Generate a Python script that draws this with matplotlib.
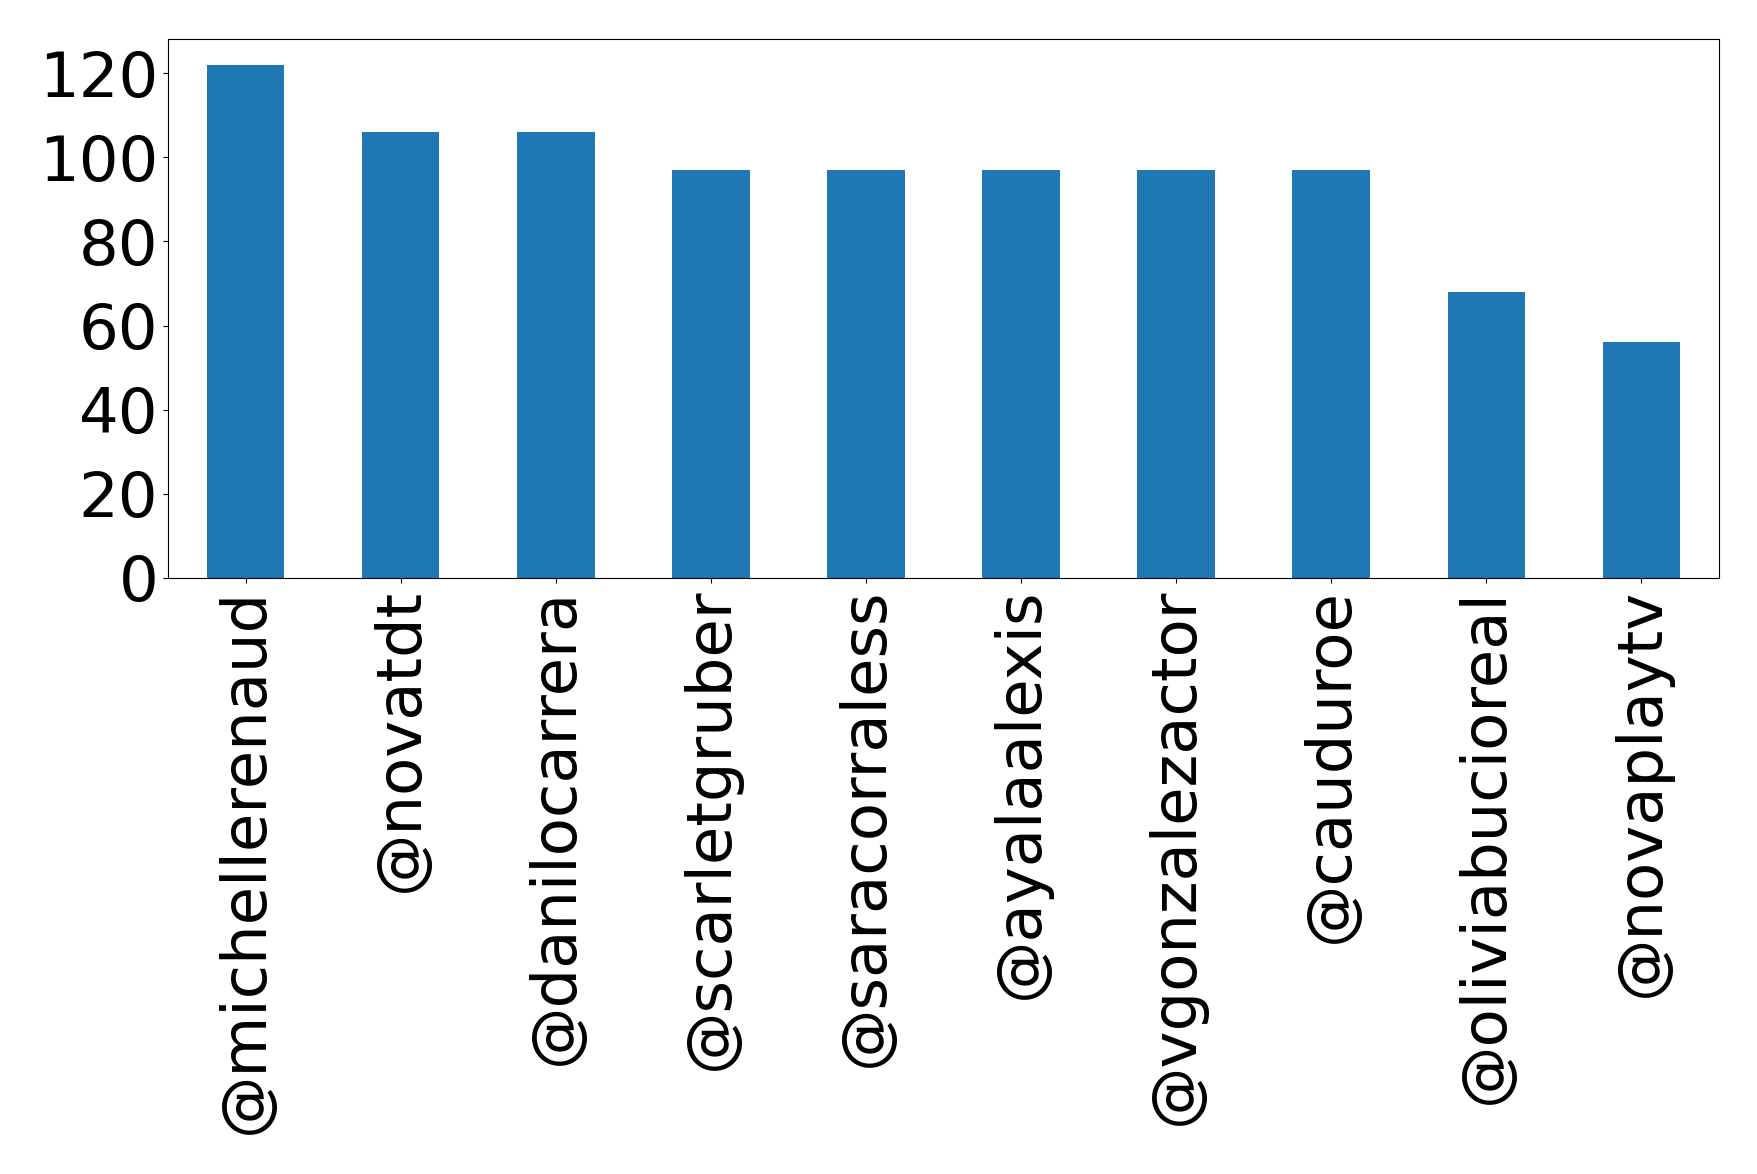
import matplotlib
matplotlib.use("Agg")
import matplotlib.pyplot as plt
import numpy as np

users = ["@michellerenaud", "@novatdt", "@danilocarrera", "@scarletgruber",
         "@saracorraless", "@ayalaalexis", "@vgonzalezactor", "@cauduroe",
         "@oliviabucioreal", "@novaplaytv"]
counts = [122, 106, 106, 97, 97, 97, 97, 97, 68, 56]

fig = plt.figure(figsize=(17.58, 11.74), dpi=100)
ax = fig.add_axes([0.0956, 0.5077, 0.8822, 0.4591])

x = np.arange(len(users))
ax.bar(x, counts, width=0.5, color="#1f77b4")
ax.set_xlim(-0.5, len(users) - 0.5)
ax.set_ylim(0, max(counts) * 1.05)
ax.set_yticks([0, 20, 40, 60, 80, 100, 120])
ax.set_xticks(x)
ax.set_xticklabels(users, rotation=90)
ax.tick_params(axis="both", labelsize=45)

fig.savefig("out.png", dpi=100)
